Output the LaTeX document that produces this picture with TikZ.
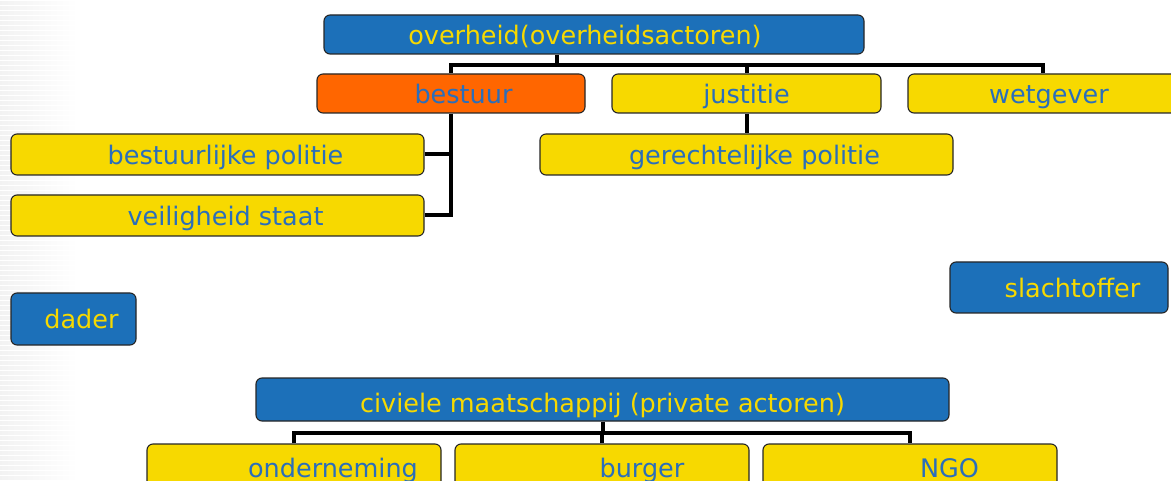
\documentclass[tikz,border=0pt]{standalone}
\usepackage{fontspec}
\setmainfont{DejaVu Sans}
\definecolor{ppblue}{HTML}{1C70B9}
\definecolor{ppyellow}{HTML}{F7D900}
\definecolor{pporange}{HTML}{FF6600}
\definecolor{pptext}{HTML}{2A6EBB}
\tikzset{
  box/.style={draw=black!85, line width=1.1pt, rounded corners=6pt, inner sep=0pt,
    minimum height=39pt, text height=20pt, text depth=0pt, font=\fontsize{25.5}{29}\selectfont},
  bluebox/.style={box, fill=ppblue, text=ppyellow},
  yellowbox/.style={box, fill=ppyellow, text=pptext},
  orangebox/.style={box, fill=pporange, text=pptext},
  conn/.style={line width=4pt, black}
}
\begin{document}
\begin{tikzpicture}[x=1pt,y=-1pt]
\useasboundingbox (0,0) rectangle (1171,481);
\shade[left color=black!5, right color=white] (0,0) rectangle (78,481);
\foreach \yy in {0,5,...,480} {\draw[white, line width=0.6pt] (0,\yy) -- (78,\yy);}
% top hierarchy
\node[bluebox, minimum width=540pt, text height=21pt] (over) at (594,34.5) {\hspace*{-18pt}overheid(overheidsactoren)};
\node[orangebox, minimum width=268pt] (bestuur) at (451,93.5) {\hspace*{25pt}bestuur};
\node[yellowbox, minimum width=269pt] (justitie) at (746.5,93.5) {justitie};
\node[yellowbox, minimum width=270pt] (wetgever) at (1043,93.5) {\hspace*{12pt}wetgever};
\node[yellowbox, minimum width=413pt, minimum height=41pt] (gpol) at (746.5,154.5) {\hspace*{16pt}gerechtelijke politie};
\node[yellowbox, minimum width=413pt, minimum height=41pt] (bpol) at (217.5,154.5) {\hspace*{16pt}bestuurlijke politie};
\node[yellowbox, minimum width=413pt, minimum height=41pt] (veilig) at (217.5,215.5) {\hspace*{16pt}veiligheid staat};
\coordinate (hub1) at (557,65);
\draw[conn] (over.south -| hub1) -- (hub1);
\draw[conn] (bestuur.north) |- (wetgever.north |- hub1) -- (wetgever.north);
\draw[conn] (justitie.north) -- (justitie.north |- hub1);
\draw[conn] (bestuur.south) -- (bestuur.south |- veilig.east) -- (veilig.east);
\draw[conn] (bpol.east) -- (bpol.east -| bestuur.south);
\draw[conn] (justitie.south) -- (gpol.north -| justitie.south);
% actors
\node[bluebox, minimum width=125pt, minimum height=52pt] (dader) at (73.5,319) {\hspace*{16pt}dader};
\node[bluebox, minimum width=218pt, minimum height=51pt] (slacht) at (1059,287.5) {\hspace*{27pt}slachtoffer};
% bottom hierarchy
\node[bluebox, minimum width=693pt, minimum height=43pt, text height=25pt] (civ) at (602.5,399.5) {civiele maatschappij (private actoren)};
\node[yellowbox, minimum width=294pt, minimum height=46pt] (onder) at (294,467) {\hspace*{78pt}onderneming};
\node[yellowbox, minimum width=294pt, minimum height=46pt] (burger) at (602,467) {\hspace*{80pt}burger};
\node[yellowbox, minimum width=294pt, minimum height=46pt] (ngo) at (910,467) {\hspace*{79pt}NGO};
\coordinate (hub2) at (603,433);
\draw[conn] (civ.south -| hub2) -- (hub2);
\draw[conn] (onder.north) |- (ngo.north |- hub2) -- (ngo.north);
\draw[conn] (burger.north) -- (burger.north |- hub2);
\end{tikzpicture}
\end{document}
